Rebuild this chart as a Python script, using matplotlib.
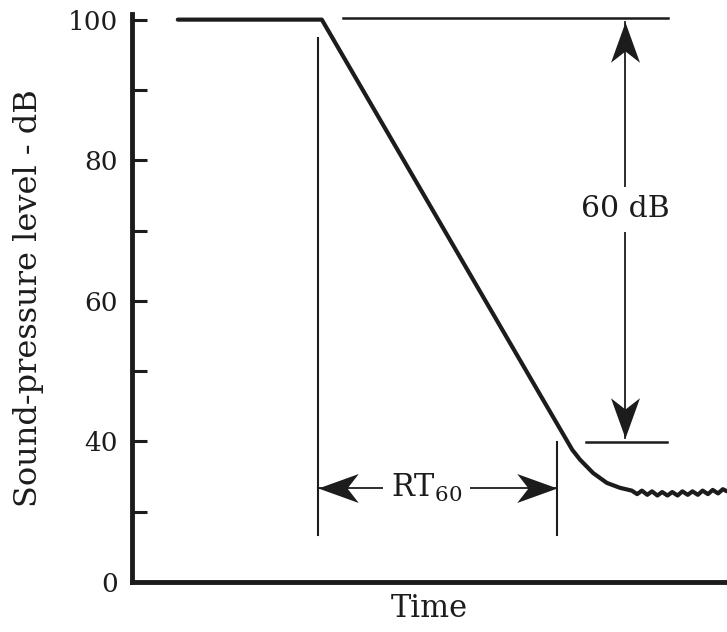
import matplotlib.pyplot as plt
from matplotlib.markers import MarkerStyle
from matplotlib.path import Path
from matplotlib.transforms import Affine2D

# decay curve (time in arbitrary units, level in dB on the drawn scale)
decay_t = [0.77, 3.19, 6.91, 7.40, 7.53, 7.75, 7.98, 8.20, 8.40]
decay_db = [100.0, 100.0, 45.9, 38.8, 37.4, 35.5, 34.1, 33.4, 33.0]

# noise floor wiggles after the decay
floor_t = [8.49, 8.57, 8.66, 8.74, 8.83, 8.91, 9.00, 9.08, 9.17, 9.25,
           9.34, 9.42, 9.51, 9.59, 9.68, 9.76, 9.85, 9.93, 10.0]
floor_db = [32.5, 33.0, 32.4, 32.9, 32.3, 32.8, 32.3, 32.8, 32.3, 32.9,
            32.4, 32.9, 32.4, 33.0, 32.5, 33.1, 32.6, 33.2, 32.9]

# y axis: the bottom of the drawn scale is labelled 0 (compressed axis)
major_pos = [20, 40, 60, 80, 100]
major_labels = ["0", "40", "60", "80", "100"]
minor_pos = [30, 50, 70, 90]

# annotation geometry
t_start, t_end = 3.13, 7.14
rt_level = 33.4
arrow_t = 8.29
top_db, low_db = 100.2, 39.9
arrow_top, arrow_low = 99.6, 40.5

plt.rcParams["font.family"] = ["DejaVu Serif"]
plt.rcParams["mathtext.fontset"] = "dejavuserif"
ink = "#1c1c1c"

fig = plt.figure(figsize=(7.27, 6.32), dpi=100)
ax = fig.add_axes([132 / 727, 50 / 632, 1 - 132 / 727, 568 / 632])

ax.plot(decay_t + floor_t, decay_db + floor_db, color=ink, lw=3,
        solid_joinstyle="round", solid_capstyle="round")

# vertical markers for the RT60 interval
ax.plot([t_start, t_start], [26.7, 97.4], color=ink, lw=1.5)
ax.plot([t_end, t_end], [26.7, 39.9], color=ink, lw=1.5)

# reference levels for the 60 dB drop
ax.plot([3.55, 9.01], [top_db, top_db], color=ink, lw=1.8)
ax.plot([7.63, 8.99], [low_db, low_db], color=ink, lw=1.8)

# arrow shafts
ax.plot([arrow_t, arrow_t], [arrow_low, arrow_top], color=ink, lw=1.3)
ax.plot([t_start, t_end], [rt_level, rt_level], color=ink, lw=1.3)

# swept-back arrowheads, tip at the marker origin
head = Path([(0, 0), (-1, 0.36), (-0.72, 0), (-1, -0.36), (0, 0)],
            [Path.MOVETO, Path.LINETO, Path.LINETO, Path.LINETO, Path.CLOSEPOLY])


def arrowhead(x, y, angle):
    m = MarkerStyle(head, transform=Affine2D().rotate_deg(angle))
    ax.plot([x], [y], marker=m, ms=58, color=ink, mew=0, linestyle="none")


arrowhead(arrow_t, arrow_top, 90)
arrowhead(arrow_t, arrow_low, -90)
arrowhead(t_start, rt_level, 180)
arrowhead(t_end, rt_level, 0)

ax.text(arrow_t, 73.0, "60 dB", ha="center", va="center", fontsize=21.5,
        color=ink, bbox=dict(facecolor="white", edgecolor="none", pad=6))
ax.text(4.95, rt_level, "RT$_{\\mathrm{60}}$", ha="center", va="center",
        fontsize=22, color=ink,
        bbox=dict(facecolor="white", edgecolor="none", pad=6))

ax.set_xlim(0, 10)
ax.set_ylim(20, 100.8)
ax.set_xticks([])
ax.set_yticks(major_pos)
ax.set_yticklabels(major_labels)
ax.set_yticks(minor_pos, minor=True)
ax.tick_params(axis="y", which="both", direction="in", length=11, width=2.2,
               labelsize=19, labelcolor=ink, color=ink, pad=10)

for side in ("top", "right"):
    ax.spines[side].set_visible(False)
for side in ("left", "bottom"):
    ax.spines[side].set_linewidth(3.5)
    ax.spines[side].set_color(ink)

ax.set_xlabel("Time", fontsize=22, color=ink, labelpad=8)
ax.set_ylabel("Sound-pressure level - dB", fontsize=23, color=ink, labelpad=17)

fig.savefig("out.png", dpi=100)
